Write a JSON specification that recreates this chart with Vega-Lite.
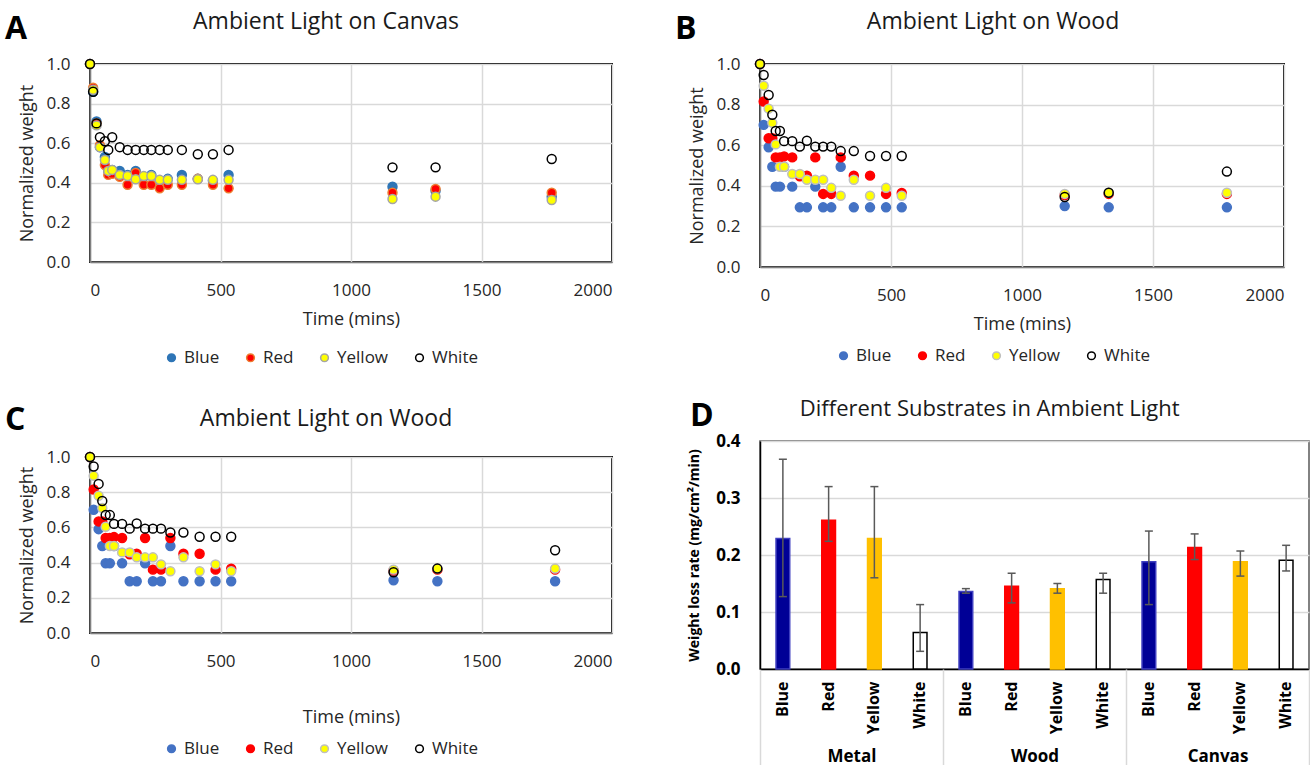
{
  "$schema": "https://vega.github.io/schema/vega-lite/v6.json",
  "padding": {"left": 5, "top": 10, "right": 0, "bottom": 0},
  "background": "white",
  "config": {
    "font": "Open Sans",
    "view": {"stroke": null},
    "axis": {"labelColor": "#262626", "titleColor": "#262626", "labelFont": "Open Sans", "titleFont": "Open Sans"},
    "legend": {"labelFont": "Open Sans"},
    "title": {"font": "Open Sans", "color": "#1a1a1a"}
  },
  "datasets": {
    "canvas": [
      {"t":0,"s":"Blue","w":1.0},{"t":12,"s":"Blue","w":0.86},{"t":25,"s":"Blue","w":0.71},{"t":38,"s":"Blue","w":0.58},{"t":57,"s":"Blue","w":0.53},{"t":70,"s":"Blue","w":0.46},{"t":85,"s":"Blue","w":0.465},{"t":114,"s":"Blue","w":0.46},{"t":144,"s":"Blue","w":0.44},{"t":175,"s":"Blue","w":0.46},{"t":206,"s":"Blue","w":0.43},{"t":235,"s":"Blue","w":0.44},{"t":267,"s":"Blue","w":0.41},{"t":298,"s":"Blue","w":0.42},{"t":352,"s":"Blue","w":0.44},{"t":413,"s":"Blue","w":0.42},{"t":471,"s":"Blue","w":0.41},{"t":531,"s":"Blue","w":0.44},{"t":1159,"s":"Blue","w":0.38},{"t":1324,"s":"Blue","w":0.36},{"t":1769,"s":"Blue","w":0.33},
      {"t":0,"s":"Red","w":1.0},{"t":12,"s":"Red","w":0.88},{"t":25,"s":"Red","w":0.70},{"t":38,"s":"Red","w":0.59},{"t":57,"s":"Red","w":0.49},{"t":70,"s":"Red","w":0.44},{"t":85,"s":"Red","w":0.445},{"t":114,"s":"Red","w":0.43},{"t":144,"s":"Red","w":0.39},{"t":175,"s":"Red","w":0.45},{"t":206,"s":"Red","w":0.39},{"t":235,"s":"Red","w":0.39},{"t":267,"s":"Red","w":0.372},{"t":298,"s":"Red","w":0.39},{"t":352,"s":"Red","w":0.39},{"t":413,"s":"Red","w":0.42},{"t":471,"s":"Red","w":0.39},{"t":531,"s":"Red","w":0.372},{"t":1159,"s":"Red","w":0.35},{"t":1324,"s":"Red","w":0.369},{"t":1769,"s":"Red","w":0.35},
      {"t":0,"s":"Yellow","w":1.0},{"t":12,"s":"Yellow","w":0.87},{"t":25,"s":"Yellow","w":0.69},{"t":38,"s":"Yellow","w":0.58},{"t":57,"s":"Yellow","w":0.515},{"t":70,"s":"Yellow","w":0.46},{"t":85,"s":"Yellow","w":0.465},{"t":114,"s":"Yellow","w":0.44},{"t":144,"s":"Yellow","w":0.434},{"t":175,"s":"Yellow","w":0.418},{"t":206,"s":"Yellow","w":0.434},{"t":235,"s":"Yellow","w":0.434},{"t":267,"s":"Yellow","w":0.415},{"t":298,"s":"Yellow","w":0.415},{"t":352,"s":"Yellow","w":0.415},{"t":413,"s":"Yellow","w":0.418},{"t":471,"s":"Yellow","w":0.415},{"t":531,"s":"Yellow","w":0.415},{"t":1159,"s":"Yellow","w":0.318},{"t":1324,"s":"Yellow","w":0.33},{"t":1769,"s":"Yellow","w":0.313},
      {"t":0,"s":"White","w":1.0},{"t":12,"s":"White","w":0.86},{"t":25,"s":"White","w":0.70},{"t":38,"s":"White","w":0.63},{"t":57,"s":"White","w":0.61},{"t":70,"s":"White","w":0.566},{"t":85,"s":"White","w":0.63},{"t":114,"s":"White","w":0.58},{"t":144,"s":"White","w":0.566},{"t":175,"s":"White","w":0.566},{"t":206,"s":"White","w":0.566},{"t":235,"s":"White","w":0.566},{"t":267,"s":"White","w":0.566},{"t":298,"s":"White","w":0.566},{"t":352,"s":"White","w":0.566},{"t":413,"s":"White","w":0.544},{"t":471,"s":"White","w":0.544},{"t":531,"s":"White","w":0.566},{"t":1159,"s":"White","w":0.478},{"t":1324,"s":"White","w":0.478},{"t":1769,"s":"White","w":0.52}
    ],
    "wood": [
      {"t":0,"s":"Blue","w":1.0},{"t":14,"s":"Blue","w":0.70},{"t":33,"s":"Blue","w":0.59},{"t":47,"s":"Blue","w":0.494},{"t":60,"s":"Blue","w":0.396},{"t":76,"s":"Blue","w":0.396},{"t":92,"s":"Blue","w":0.494},{"t":123,"s":"Blue","w":0.396},{"t":152,"s":"Blue","w":0.294},{"t":179,"s":"Blue","w":0.294},{"t":211,"s":"Blue","w":0.396},{"t":241,"s":"Blue","w":0.294},{"t":272,"s":"Blue","w":0.294},{"t":308,"s":"Blue","w":0.494},{"t":358,"s":"Blue","w":0.294},{"t":420,"s":"Blue","w":0.294},{"t":481,"s":"Blue","w":0.294},{"t":541,"s":"Blue","w":0.294},{"t":1163,"s":"Blue","w":0.30},{"t":1331,"s":"Blue","w":0.294},{"t":1782,"s":"Blue","w":0.294},
      {"t":0,"s":"Red","w":1.0},{"t":14,"s":"Red","w":0.815},{"t":33,"s":"Red","w":0.634},{"t":47,"s":"Red","w":0.634},{"t":60,"s":"Red","w":0.54},{"t":76,"s":"Red","w":0.54},{"t":92,"s":"Red","w":0.545},{"t":123,"s":"Red","w":0.54},{"t":152,"s":"Red","w":0.447},{"t":179,"s":"Red","w":0.45},{"t":211,"s":"Red","w":0.54},{"t":241,"s":"Red","w":0.36},{"t":272,"s":"Red","w":0.36},{"t":308,"s":"Red","w":0.54},{"t":358,"s":"Red","w":0.45},{"t":420,"s":"Red","w":0.45},{"t":481,"s":"Red","w":0.36},{"t":541,"s":"Red","w":0.365},{"t":1163,"s":"Red","w":0.355},{"t":1331,"s":"Red","w":0.36},{"t":1782,"s":"Red","w":0.36},
      {"t":0,"s":"Yellow","w":1.0},{"t":14,"s":"Yellow","w":0.893},{"t":33,"s":"Yellow","w":0.78},{"t":47,"s":"Yellow","w":0.71},{"t":60,"s":"Yellow","w":0.604},{"t":76,"s":"Yellow","w":0.494},{"t":92,"s":"Yellow","w":0.494},{"t":123,"s":"Yellow","w":0.458},{"t":152,"s":"Yellow","w":0.458},{"t":179,"s":"Yellow","w":0.43},{"t":211,"s":"Yellow","w":0.43},{"t":241,"s":"Yellow","w":0.43},{"t":272,"s":"Yellow","w":0.39},{"t":308,"s":"Yellow","w":0.351},{"t":358,"s":"Yellow","w":0.43},{"t":420,"s":"Yellow","w":0.351},{"t":481,"s":"Yellow","w":0.39},{"t":541,"s":"Yellow","w":0.351},{"t":1163,"s":"Yellow","w":0.36},{"t":1331,"s":"Yellow","w":0.366},{"t":1782,"s":"Yellow","w":0.366},
      {"t":0,"s":"White","w":1.0},{"t":14,"s":"White","w":0.946},{"t":33,"s":"White","w":0.847},{"t":47,"s":"White","w":0.75},{"t":60,"s":"White","w":0.67},{"t":76,"s":"White","w":0.67},{"t":92,"s":"White","w":0.62},{"t":123,"s":"White","w":0.62},{"t":152,"s":"White","w":0.593},{"t":179,"s":"White","w":0.622},{"t":211,"s":"White","w":0.593},{"t":241,"s":"White","w":0.593},{"t":272,"s":"White","w":0.593},{"t":308,"s":"White","w":0.571},{"t":358,"s":"White","w":0.571},{"t":420,"s":"White","w":0.547},{"t":481,"s":"White","w":0.547},{"t":541,"s":"White","w":0.547},{"t":1163,"s":"White","w":0.345},{"t":1331,"s":"White","w":0.366},{"t":1782,"s":"White","w":0.47}
    ],
    "bars": [
      {"substrate":"Metal","color":"Blue","key":"Metal Blue","rate":0.229,"lo":0.127,"hi":0.368},
      {"substrate":"Metal","color":"Red","key":"Metal Red","rate":0.261,"lo":0.224,"hi":0.32},
      {"substrate":"Metal","color":"Yellow","key":"Metal Yellow","rate":0.229,"lo":0.16,"hi":0.32},
      {"substrate":"Metal","color":"White","key":"Metal White","rate":0.064,"lo":0.031,"hi":0.113},
      {"substrate":"Wood","color":"Blue","key":"Wood Blue","rate":0.136,"lo":0.133,"hi":0.141},
      {"substrate":"Wood","color":"Red","key":"Wood Red","rate":0.145,"lo":0.116,"hi":0.168},
      {"substrate":"Wood","color":"Yellow","key":"Wood Yellow","rate":0.141,"lo":0.133,"hi":0.15},
      {"substrate":"Wood","color":"White","key":"Wood White","rate":0.157,"lo":0.133,"hi":0.168},
      {"substrate":"Canvas","color":"Blue","key":"Canvas Blue","rate":0.188,"lo":0.113,"hi":0.242},
      {"substrate":"Canvas","color":"Red","key":"Canvas Red","rate":0.213,"lo":0.192,"hi":0.237},
      {"substrate":"Canvas","color":"Yellow","key":"Canvas Yellow","rate":0.188,"lo":0.163,"hi":0.207},
      {"substrate":"Canvas","color":"White","key":"Canvas White","rate":0.191,"lo":0.172,"hi":0.217}
    ]
  },
  "spacing": 62,
  "resolve": {"scale": {"fill": "independent", "stroke": "independent"}, "legend": {"fill": "independent", "stroke": "independent"}},
  "hconcat": [
    {
      "spacing": 37,
      "resolve": {"scale": {"fill": "independent", "stroke": "independent"}, "legend": {"fill": "independent", "stroke": "independent"}},
      "vconcat": [
        {
          "title": {"text": "A", "anchor": "start", "frame": "bounds", "fontSize": 32, "fontWeight": "bold", "color": "#000", "offset": -36, "dx": -12},
          "resolve": {"scale": {"fill": "independent", "stroke": "independent"}, "legend": {"fill": "independent", "stroke": "independent"}},
          "vconcat": [
            {
              "title": {"text": "Ambient Light on Canvas", "fontSize": 23, "fontWeight": "normal", "offset": 21, "frame": "bounds", "anchor": "middle", "dx": 11},
              "width": 522, "height": 198,
              "data": {"name": "canvas"},
              "view": {"stroke": "#000", "strokeWidth": 2},
              "mark": {"type": "point", "shape": "circle", "filled": true, "size": 80, "strokeWidth": 1.5, "opacity": 1},
              "encoding": {
                "x": {"field": "t", "type": "quantitative", "scale": {"domain": [0, 2000], "nice": false},
                  "axis": {"title": "Time (mins)", "values": [0, 500, 1000, 1500, 2000], "format": "d", "ticks": false, "domainColor": "#808080", "domainWidth": 1.5, "gridColor": "#d9d9d9", "gridWidth": 1.5, "labelFontSize": 17, "labelPadding": 20, "titleFontSize": 18, "titleFontWeight": "normal", "titlePadding": 12}},
                "y": {"field": "w", "type": "quantitative", "scale": {"domain": [0, 1], "nice": false},
                  "axis": {"title": "Normalized weight", "values": [0, 0.2, 0.4, 0.6, 0.8, 1.0], "format": ".1f", "ticks": false, "domainColor": "#808080", "domainWidth": 1.5, "gridColor": "#d9d9d9", "gridWidth": 1.5, "labelFontSize": 17, "labelPadding": 20, "titleFontSize": 18, "titleFontWeight": "normal", "titlePadding": 10}},
                "fill": {"field": "s", "type": "nominal", "scale": {"domain": ["Blue", "Red", "Yellow", "White"], "range": ["#2E75B6", "#FF0000", "#FFFF00", "transparent"]},
                  "legend": {"title": null, "orient": "none", "legendX": 73, "legendY": 285, "direction": "horizontal", "labelFontSize": 17, "symbolSize": 60, "symbolStrokeWidth": 1.5, "columnPadding": 22, "labelColor": "#262626"}},
                "stroke": {"field": "s", "type": "nominal", "scale": {"domain": ["Blue", "Red", "Yellow", "White"], "range": ["#2E75B6", "#ED7D31", "#A5A5A5", "#000000"]},
                  "legend": {"title": null, "orient": "none", "legendX": 73, "legendY": 285, "direction": "horizontal", "labelFontSize": 17, "symbolSize": 60, "symbolStrokeWidth": 1.5, "columnPadding": 22, "labelColor": "#262626"}}
              }
            }
          ]
        },
        {
          "title": {"text": "C", "anchor": "start", "frame": "bounds", "fontSize": 32, "fontWeight": "bold", "color": "#000", "offset": -30, "dx": -12},
          "resolve": {"scale": {"fill": "independent", "stroke": "independent"}, "legend": {"fill": "independent", "stroke": "independent"}},
          "vconcat": [
            {
              "title": {"text": "Ambient Light on Wood", "fontSize": 23, "fontWeight": "normal", "offset": 17, "frame": "bounds", "anchor": "middle", "dx": 11},
              "width": 522, "height": 176,
              "data": {"name": "wood"},
              "view": {"stroke": "#000", "strokeWidth": 2},
              "mark": {"type": "point", "shape": "circle", "filled": true, "size": 80, "strokeWidth": 1.5, "opacity": 1},
              "encoding": {
                "x": {"field": "t", "type": "quantitative", "scale": {"domain": [0, 2000], "nice": false},
                  "axis": {"title": "Time (mins)", "values": [0, 500, 1000, 1500, 2000], "format": "d", "ticks": false, "domainColor": "#808080", "domainWidth": 1.5, "gridColor": "#d9d9d9", "gridWidth": 1.5, "labelFontSize": 17, "labelPadding": 20, "titleFontSize": 18, "titleFontWeight": "normal", "titlePadding": 39}},
                "y": {"field": "w", "type": "quantitative", "scale": {"domain": [0, 1], "nice": false},
                  "axis": {"title": "Normalized weight", "values": [0, 0.2, 0.4, 0.6, 0.8, 1.0], "format": ".1f", "ticks": false, "domainColor": "#808080", "domainWidth": 1.5, "gridColor": "#d9d9d9", "gridWidth": 1.5, "labelFontSize": 17, "labelPadding": 20, "titleFontSize": 18, "titleFontWeight": "normal", "titlePadding": 10}},
                "fill": {"field": "s", "type": "nominal", "scale": {"domain": ["Blue", "Red", "Yellow", "White"], "range": ["#4472C4", "#FF0000", "#FFFF00", "transparent"]},
                  "legend": {"title": null, "orient": "none", "legendX": 73, "legendY": 283, "direction": "horizontal", "labelFontSize": 17, "symbolSize": 60, "symbolStrokeWidth": 1.5, "columnPadding": 22, "labelColor": "#262626"}},
                "stroke": {"field": "s", "type": "nominal", "scale": {"domain": ["Blue", "Red", "Yellow", "White"], "range": ["#4472C4", "#FF0000", "#BFBFBF", "#000000"]},
                  "legend": {"title": null, "orient": "none", "legendX": 73, "legendY": 283, "direction": "horizontal", "labelFontSize": 17, "symbolSize": 60, "symbolStrokeWidth": 1.5, "columnPadding": 22, "labelColor": "#262626"}}
              }
            }
          ]
        }
      ]
    },
    {
      "spacing": 32,
      "align": "none",
      "resolve": {"scale": {"fill": "independent", "stroke": "independent"}, "legend": {"fill": "independent", "stroke": "independent"}},
      "vconcat": [
        {
          "title": {"text": "B", "anchor": "start", "frame": "bounds", "fontSize": 32, "fontWeight": "bold", "color": "#000", "offset": -36, "dx": -12},
          "resolve": {"scale": {"fill": "independent", "stroke": "independent"}, "legend": {"fill": "independent", "stroke": "independent"}},
          "vconcat": [
            {
              "title": {"text": "Ambient Light on Wood", "fontSize": 23, "fontWeight": "normal", "offset": 21, "frame": "bounds", "anchor": "middle", "dx": 7},
              "width": 524, "height": 203,
              "data": {"name": "wood"},
              "view": {"stroke": "#000", "strokeWidth": 2},
              "mark": {"type": "point", "shape": "circle", "filled": true, "size": 80, "strokeWidth": 1.5, "opacity": 1},
              "encoding": {
                "x": {"field": "t", "type": "quantitative", "scale": {"domain": [0, 2000], "nice": false},
                  "axis": {"title": "Time (mins)", "values": [0, 500, 1000, 1500, 2000], "format": "d", "ticks": false, "domainColor": "#808080", "domainWidth": 1.5, "gridColor": "#d9d9d9", "gridWidth": 1.5, "labelFontSize": 17, "labelPadding": 20, "titleFontSize": 18, "titleFontWeight": "normal", "titlePadding": 12}},
                "y": {"field": "w", "type": "quantitative", "scale": {"domain": [0, 1], "nice": false},
                  "axis": {"title": "Normalized weight", "values": [0, 0.2, 0.4, 0.6, 0.8, 1.0], "format": ".1f", "ticks": false, "domainColor": "#808080", "domainWidth": 1.5, "gridColor": "#d9d9d9", "gridWidth": 1.5, "labelFontSize": 17, "labelPadding": 20, "titleFontSize": 18, "titleFontWeight": "normal", "titlePadding": 10}},
                "fill": {"field": "s", "type": "nominal", "scale": {"domain": ["Blue", "Red", "Yellow", "White"], "range": ["#4472C4", "#FF0000", "#FFFF00", "transparent"]},
                  "legend": {"title": null, "orient": "none", "legendX": 75, "legendY": 283, "direction": "horizontal", "labelFontSize": 17, "symbolSize": 60, "symbolStrokeWidth": 1.5, "columnPadding": 22, "labelColor": "#262626"}},
                "stroke": {"field": "s", "type": "nominal", "scale": {"domain": ["Blue", "Red", "Yellow", "White"], "range": ["#4472C4", "#FF0000", "#BFBFBF", "#000000"]},
                  "legend": {"title": null, "orient": "none", "legendX": 75, "legendY": 283, "direction": "horizontal", "labelFontSize": 17, "symbolSize": 60, "symbolStrokeWidth": 1.5, "columnPadding": 22, "labelColor": "#262626"}}
              }
            }
          ]
        },
        {
          "title": {"text": "D", "anchor": "start", "frame": "bounds", "fontSize": 32, "fontWeight": "bold", "color": "#000", "offset": -36, "dx": 3},
          "resolve": {"scale": {"fill": "independent", "stroke": "independent"}, "legend": {"fill": "independent", "stroke": "independent"}},
          "vconcat": [
            {
              "title": {"text": "Different Substrates in Ambient Light", "fontSize": 22, "fontWeight": "normal", "offset": 11, "frame": "bounds", "anchor": "middle", "dx": -9},
              "width": 549, "height": 228,
              "data": {"name": "bars"},
              "view": {"stroke": "#595959", "strokeWidth": 1.5},
              "layer": [
                {
                  "layer": [
                    {
                      "mark": {"type": "bar", "strokeWidth": 1.5},
                      "encoding": {
                        "x": {"field": "key", "type": "nominal", "sort": null, "scale": {"paddingInner": 0.7, "paddingOuter": 0.35},
                          "axis": {"title": null, "labelAngle": 270, "labelExpr": "split(datum.value, ' ')[1]", "labelFontWeight": "bold", "labelFontSize": 16, "labelColor": "#000", "ticks": false, "domainColor": "#000", "domainWidth": 1.5, "labelPadding": 12}},
                        "y": {"field": "rate", "type": "quantitative", "scale": {"domain": [0, 0.4], "nice": false},
                          "axis": {"title": "Weight loss rate (mg/cm²/min)", "values": [0, 0.1, 0.2, 0.3, 0.4], "format": ".1f", "ticks": false, "domainColor": "#000", "domainWidth": 1.5, "gridColor": "#d9d9d9", "gridWidth": 1.5, "labelFontSize": 17, "labelFontWeight": "bold", "labelColor": "#000", "labelPadding": 20, "titleFontSize": 14, "titleFontWeight": "bold", "titleColor": "#000", "titlePadding": 14}},
                        "fill": {"field": "color", "type": "nominal", "scale": {"domain": ["Blue", "Red", "Yellow", "White"], "range": ["#000096", "#FF0000", "#FFC000", "#FFFFFF"]}, "legend": null},
                        "stroke": {"field": "color", "type": "nominal", "scale": {"domain": ["Blue", "Red", "Yellow", "White"], "range": ["#3F3FC0", "#FF0000", "#FFC000", "#000000"]}, "legend": null}
                      }
                    },
                    {
                      "mark": {"type": "rule", "color": "#595959", "strokeWidth": 1.5},
                      "encoding": {"x": {"field": "key", "type": "nominal", "sort": null}, "y": {"field": "lo", "type": "quantitative"}, "y2": {"field": "hi"}}
                    },
                    {
                      "mark": {"type": "tick", "color": "#595959", "size": 8, "thickness": 1.5, "opacity": 1},
                      "encoding": {"x": {"field": "key", "type": "nominal", "sort": null}, "y": {"field": "lo", "type": "quantitative"}}
                    },
                    {
                      "mark": {"type": "tick", "color": "#595959", "size": 8, "thickness": 1.5, "opacity": 1},
                      "encoding": {"x": {"field": "key", "type": "nominal", "sort": null}, "y": {"field": "hi", "type": "quantitative"}}
                    }
                  ]
                },
                {
                  "mark": {"type": "point", "opacity": 0},
                  "encoding": {
                    "x": {"field": "substrate", "type": "nominal", "sort": ["Metal", "Wood", "Canvas"], "scale": {"paddingInner": 0, "paddingOuter": 0},
                      "axis": {"orient": "bottom", "title": null, "labelAngle": 0, "tickBand": "extent", "tickSize": 97, "tickColor": "#d9d9d9", "tickWidth": 1.5, "domain": false, "grid": false, "labelPadding": -18, "labelFontWeight": "bold", "labelFontSize": 17, "labelColor": "#000"}}
                  }
                }
              ],
              "resolve": {"scale": {"x": "independent"}, "axis": {"x": "independent"}}
            }
          ]
        }
      ]
    }
  ]
}
